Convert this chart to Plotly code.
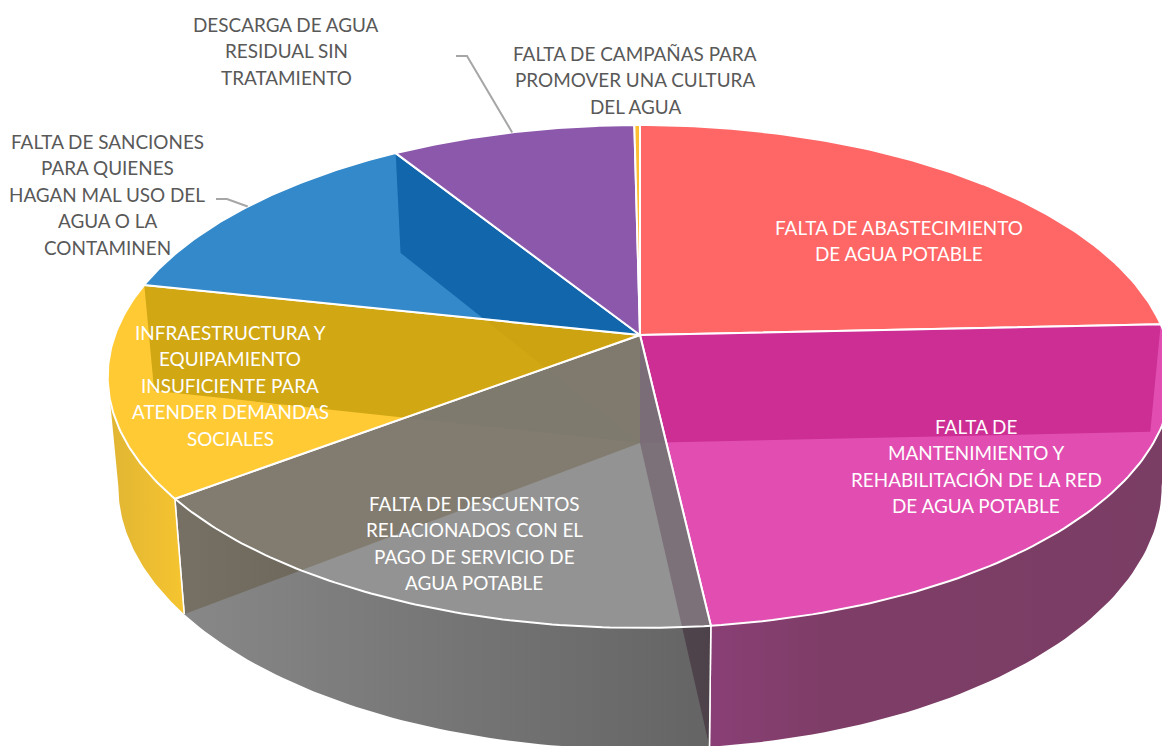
import math
import plotly.graph_objects as go

# ---- data (clockwise from 12 o'clock, percent) ----
categories = [
    "FALTA DE ABASTECIMIENTO DE AGUA POTABLE",
    "FALTA DE MANTENIMIENTO Y REHABILITACIÓN DE LA RED DE AGUA POTABLE",
    "FALTA DE DESCUENTOS RELACIONADOS CON EL PAGO DE SERVICIO DE AGUA POTABLE",
    "INFRAESTRUCTURA Y EQUIPAMIENTO INSUFICIENTE PARA ATENDER DEMANDAS SOCIALES",
    "FALTA DE SANCIONES PARA QUIENES HAGAN MAL USO DEL AGUA O LA CONTAMINEN",
    "DESCARGA DE AGUA RESIDUAL SIN TRATAMIENTO",
    "FALTA DE CAMPAÑAS PARA PROMOVER UNA CULTURA DEL AGUA",
]
values = [24.3, 23.9, 16.5, 13.7, 12.7, 8.7, 0.2]
label_lines = [
    ["FALTA DE ABASTECIMIENTO", "DE AGUA POTABLE"],
    ["FALTA DE", "MANTENIMIENTO Y", "REHABILITACIÓN DE LA RED", "DE AGUA POTABLE"],
    ["FALTA DE DESCUENTOS", "RELACIONADOS CON EL", "PAGO DE SERVICIO DE", "AGUA POTABLE"],
    ["INFRAESTRUCTURA Y", "EQUIPAMIENTO", "INSUFICIENTE PARA", "ATENDER DEMANDAS", "SOCIALES"],
    ["FALTA DE SANCIONES", "PARA QUIENES", "HAGAN MAL USO DEL", "AGUA O LA", "CONTAMINEN"],
    ["DESCARGA DE AGUA", "RESIDUAL SIN", "TRATAMIENTO"],
    ["FALTA DE CAMPAÑAS PARA", "PROMOVER UNA CULTURA", "DEL AGUA"],
]
top_colors = [(255, 102, 102), (225, 77, 176), (147, 147, 147), (255, 202, 51),
              (51, 137, 201), (140, 88, 172), (255, 190, 50)]
top_alphas = [0.85, 0.85, 0.85, 0.80, 0.85, 0.85, 0.85]
# colour of the slice's far radial wall as it is seen through the neighbouring top
wall_colors = {0: (113, 46, 68), 5: (35, 3, 58), 4: (25, 80, 100), 3: (141, 101, 0), 1: (101, 21, 81)}
# outer rim gradient stops, left to right
rim_stops = {
    1: [(0.0, (138, 63, 117)), (0.25, (126, 61, 103)), (1.0, (122, 61, 100))],
    2: [(0.0, (136, 136, 136)), (1.0, (100, 100, 100))],
    3: [(0.0, (224, 181, 52)), (1.0, (246, 196, 48))],
}

# ---- projection of the tilted disc ----
CX, CY = 640, 335
R, H, K = 525, 244.6, 0.165
DEPTH = 108
SX, SY = 0.98, 1.045
RIM_ALPHA = 0.85


def top(t):
    w = 1 + K * math.cos(t)
    return CX + R * math.sin(t) / w, CY - H * math.cos(t) / w


def bottom(t):
    w = 1 + K * math.cos(t)
    return CX + SX * R * math.sin(t) / w, CY + DEPTH - SY * H * math.cos(t) / w


def under(rgb, a):
    c = [max(0, min(255, (v - (1 - a) * 255) / a)) for v in rgb]
    return f"rgba({c[0]:.0f},{c[1]:.0f},{c[2]:.0f},{a})"


def arc(f, t0, t1, n=60):
    pts = [f(t0 + (t1 - t0) * i / n) for i in range(n + 1)]
    return [p[0] for p in pts], [p[1] for p in pts]


bounds = [0.0]
for v in values:
    bounds.append(bounds[-1] + v / sum(values) * 2 * math.pi)

fig = go.Figure()


def poly(xs, ys, fill, line=None, lw=0):
    fig.add_trace(go.Scatter(
        x=xs, y=ys, mode="lines", fill="toself", fillcolor=fill,
        line=dict(color=line or "rgba(0,0,0,0)", width=lw),
        hoverinfo="skip", showlegend=False))


# radial walls, back to front
wall_edges = [(0, bounds[1]), (5, bounds[5]), (4, bounds[4]), (3, bounds[3]), (1, bounds[2])]
for idx, t in wall_edges:
    a, b = top(t), bottom(t)
    poly([CX, a[0], b[0], CX, CX], [CY, a[1], b[1], CY + DEPTH, CY],
         under(wall_colors[idx], 0.92))

# outer rim with a horizontal gradient
limit = math.acos(-K)
for idx in (1, 2, 3):
    t0 = max(bounds[idx], limit)
    t1 = min(bounds[idx + 1], 2 * math.pi - limit)
    xa, ya = arc(top, t0, t1, 60)
    xb, yb = arc(bottom, t1, t0, 60)
    fig.add_trace(go.Scatter(
        x=xa + xb + xa[:1], y=ya + yb + ya[:1], mode="lines", fill="toself",
        fillgradient=dict(type="horizontal",
                          colorscale=[[p, under(c, RIM_ALPHA)] for p, c in rim_stops[idx]]),
        line=dict(color="rgba(0,0,0,0)", width=0),
        hoverinfo="skip", showlegend=False))
    for t in (bounds[idx], bounds[idx + 1]):
        if limit <= t <= 2 * math.pi - limit:
            a, b = top(t), bottom(t)
            fig.add_trace(go.Scatter(x=[a[0], b[0]], y=[a[1], b[1]], mode="lines",
                                     line=dict(color="white", width=1.5),
                                     hoverinfo="skip", showlegend=False))

# slice tops
for i in range(len(values)):
    xs, ys = arc(top, bounds[i], bounds[i + 1], 90)
    poly([CX] + xs + [CX], [CY] + ys + [CY], under(top_colors[i], top_alphas[i]), "white", 2)

# leader lines from the rim to the labels
for i, (ex, ey) in {5: (456, 56), 4: (216, 199)}.items():
    mid = (bounds[i] + bounds[i + 1]) / 2
    p = top(mid)
    fig.add_trace(go.Scatter(x=[ex, ex + 11, p[0]], y=[ey, ey, p[1]], mode="lines",
                             line=dict(color="#A6A6A6", width=2),
                             hoverinfo="skip", showlegend=False))

# labels: centre x, first line y, colour
label_pos = [(899, 227, "white"), (976, 426, "white"), (474, 503, "white"), (230, 332, "white"),
             (107, 141, "#595959"), (286, 24, "#595959"), (635, 53, "#595959")]
LINE_STEP = 26.6
for lines, (lx, ly, col) in zip(label_lines, label_pos):
    for j, s in enumerate(lines):
        fig.add_annotation(x=lx, y=ly + j * LINE_STEP, text=s, showarrow=False,
                           xanchor="center", yanchor="middle",
                           font=dict(family="Lato", size=18.9, color=col))

fig.update_layout(
    width=1162, height=746, margin=dict(l=0, r=0, t=0, b=0),
    paper_bgcolor="white", plot_bgcolor="white", showlegend=False,
    xaxis=dict(range=[0, 1162], visible=False, fixedrange=True),
    yaxis=dict(range=[746, 0], visible=False, fixedrange=True),
)
fig.write_html("out.html", config={"displayModeBar": False},
               post_script="document.body.style.margin='0';")
